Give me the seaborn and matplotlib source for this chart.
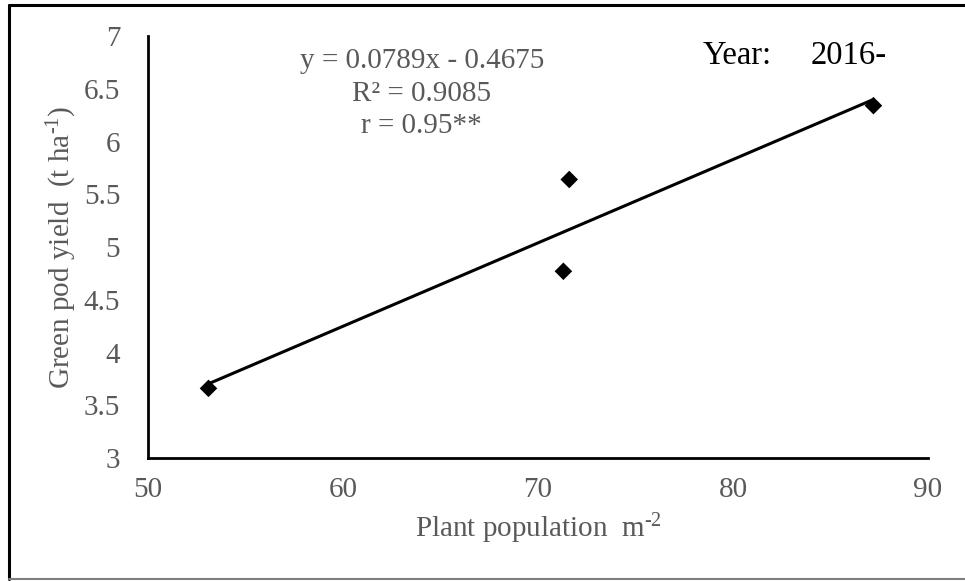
import matplotlib
matplotlib.use("Agg")
import matplotlib.pyplot as plt
import seaborn as sns
import pandas as pd
from matplotlib.lines import Line2D

# values
plant_population = [53.1, 71.3, 71.6, 87.2]
green_pod_yield = [3.66, 4.77, 5.64, 6.34]
x_ticks = [50, 60, 70, 80, 90]
y_ticks = [3, 3.5, 4, 4.5, 5, 5.5, 6, 6.5, 7]
y_tick_labels = ["3", "3.5", "4", "4.5", "5", "5.5", "6", "6.5", "7"]
stats_lines = ["y = 0.0789x - 0.4675", "R² = 0.9085", "r = 0.95**"]

df = pd.DataFrame({"pop": plant_population, "yield": green_pod_yield})

sns.set_style("white")
plt.rcParams["font.family"] = ["Liberation Serif", "DejaVu Serif"]
plt.rcParams["mathtext.fontset"] = "custom"
plt.rcParams["mathtext.rm"] = "Liberation Serif"
plt.rcParams["mathtext.it"] = "Liberation Serif:italic"

gray = "#595959"

fig = plt.figure(figsize=(9.65, 5.81), dpi=100)
ax = fig.add_axes([0.1534, 0.2117, 0.8083, 0.7263])

sns.regplot(data=df, x="pop", y="yield", ax=ax, ci=None, truncate=True,
            marker="D", color="black",
            scatter_kws={"s": 80, "edgecolors": "none", "alpha": 1, "zorder": 3},
            line_kws={"color": "black", "linewidth": 2.2})

ax.set_xlim(50, 90)
ax.set_ylim(3, 7)
ax.set_xticks(x_ticks)
ax.set_yticks(y_ticks)
ax.set_yticklabels(y_tick_labels)

for side in ["top", "right"]:
    ax.spines[side].set_visible(False)
for side in ["left", "bottom"]:
    ax.spines[side].set_color("black")
    ax.spines[side].set_linewidth(2)

ax.tick_params(axis="both", direction="in", length=5, width=2, color="black",
               labelsize=21, labelcolor=gray)
ax.tick_params(axis="x", pad=14)
ax.tick_params(axis="y", pad=20)

ax.set_xlabel(r"Plant population  m$^{\text{-2}}$", fontsize=21, color=gray,
              va="baseline")
ax.xaxis.set_label_coords(0.5, -0.187)
ax.set_ylabel(r"Green pod yield  (t ha$^{\text{-1}}$)", fontsize=21, color=gray,
              va="center")
ax.yaxis.set_label_coords(-0.110, 0.5)

for line, yfrac in zip(stats_lines, [0.924, 0.845, 0.769]):
    ax.text(0.351, yfrac, line, transform=ax.transAxes, ha="center",
            va="baseline", fontsize=21, color=gray)

ax.text(0.7115, 0.934, "Year:", transform=ax.transAxes, ha="left",
        va="baseline", fontsize=23.5, color="black")
ax.text(0.849, 0.934, "2016-", transform=ax.transAxes, ha="left",
        va="baseline", fontsize=23.5, color="black")

# outer frame (right side falls outside the picture)
fig.add_artist(Line2D([0.0093, 0.0093], [0.0034, 0.9914], transform=fig.transFigure,
                      color="black", linewidth=2.2))
fig.add_artist(Line2D([0.0093, 1.0], [0.9914, 0.9914], transform=fig.transFigure,
                      color="black", linewidth=2.2))
fig.add_artist(Line2D([0.0093, 1.0], [0.0034, 0.0034], transform=fig.transFigure,
                      color="#7f7f7f", linewidth=1.5))

fig.savefig("out.png", dpi=100)
